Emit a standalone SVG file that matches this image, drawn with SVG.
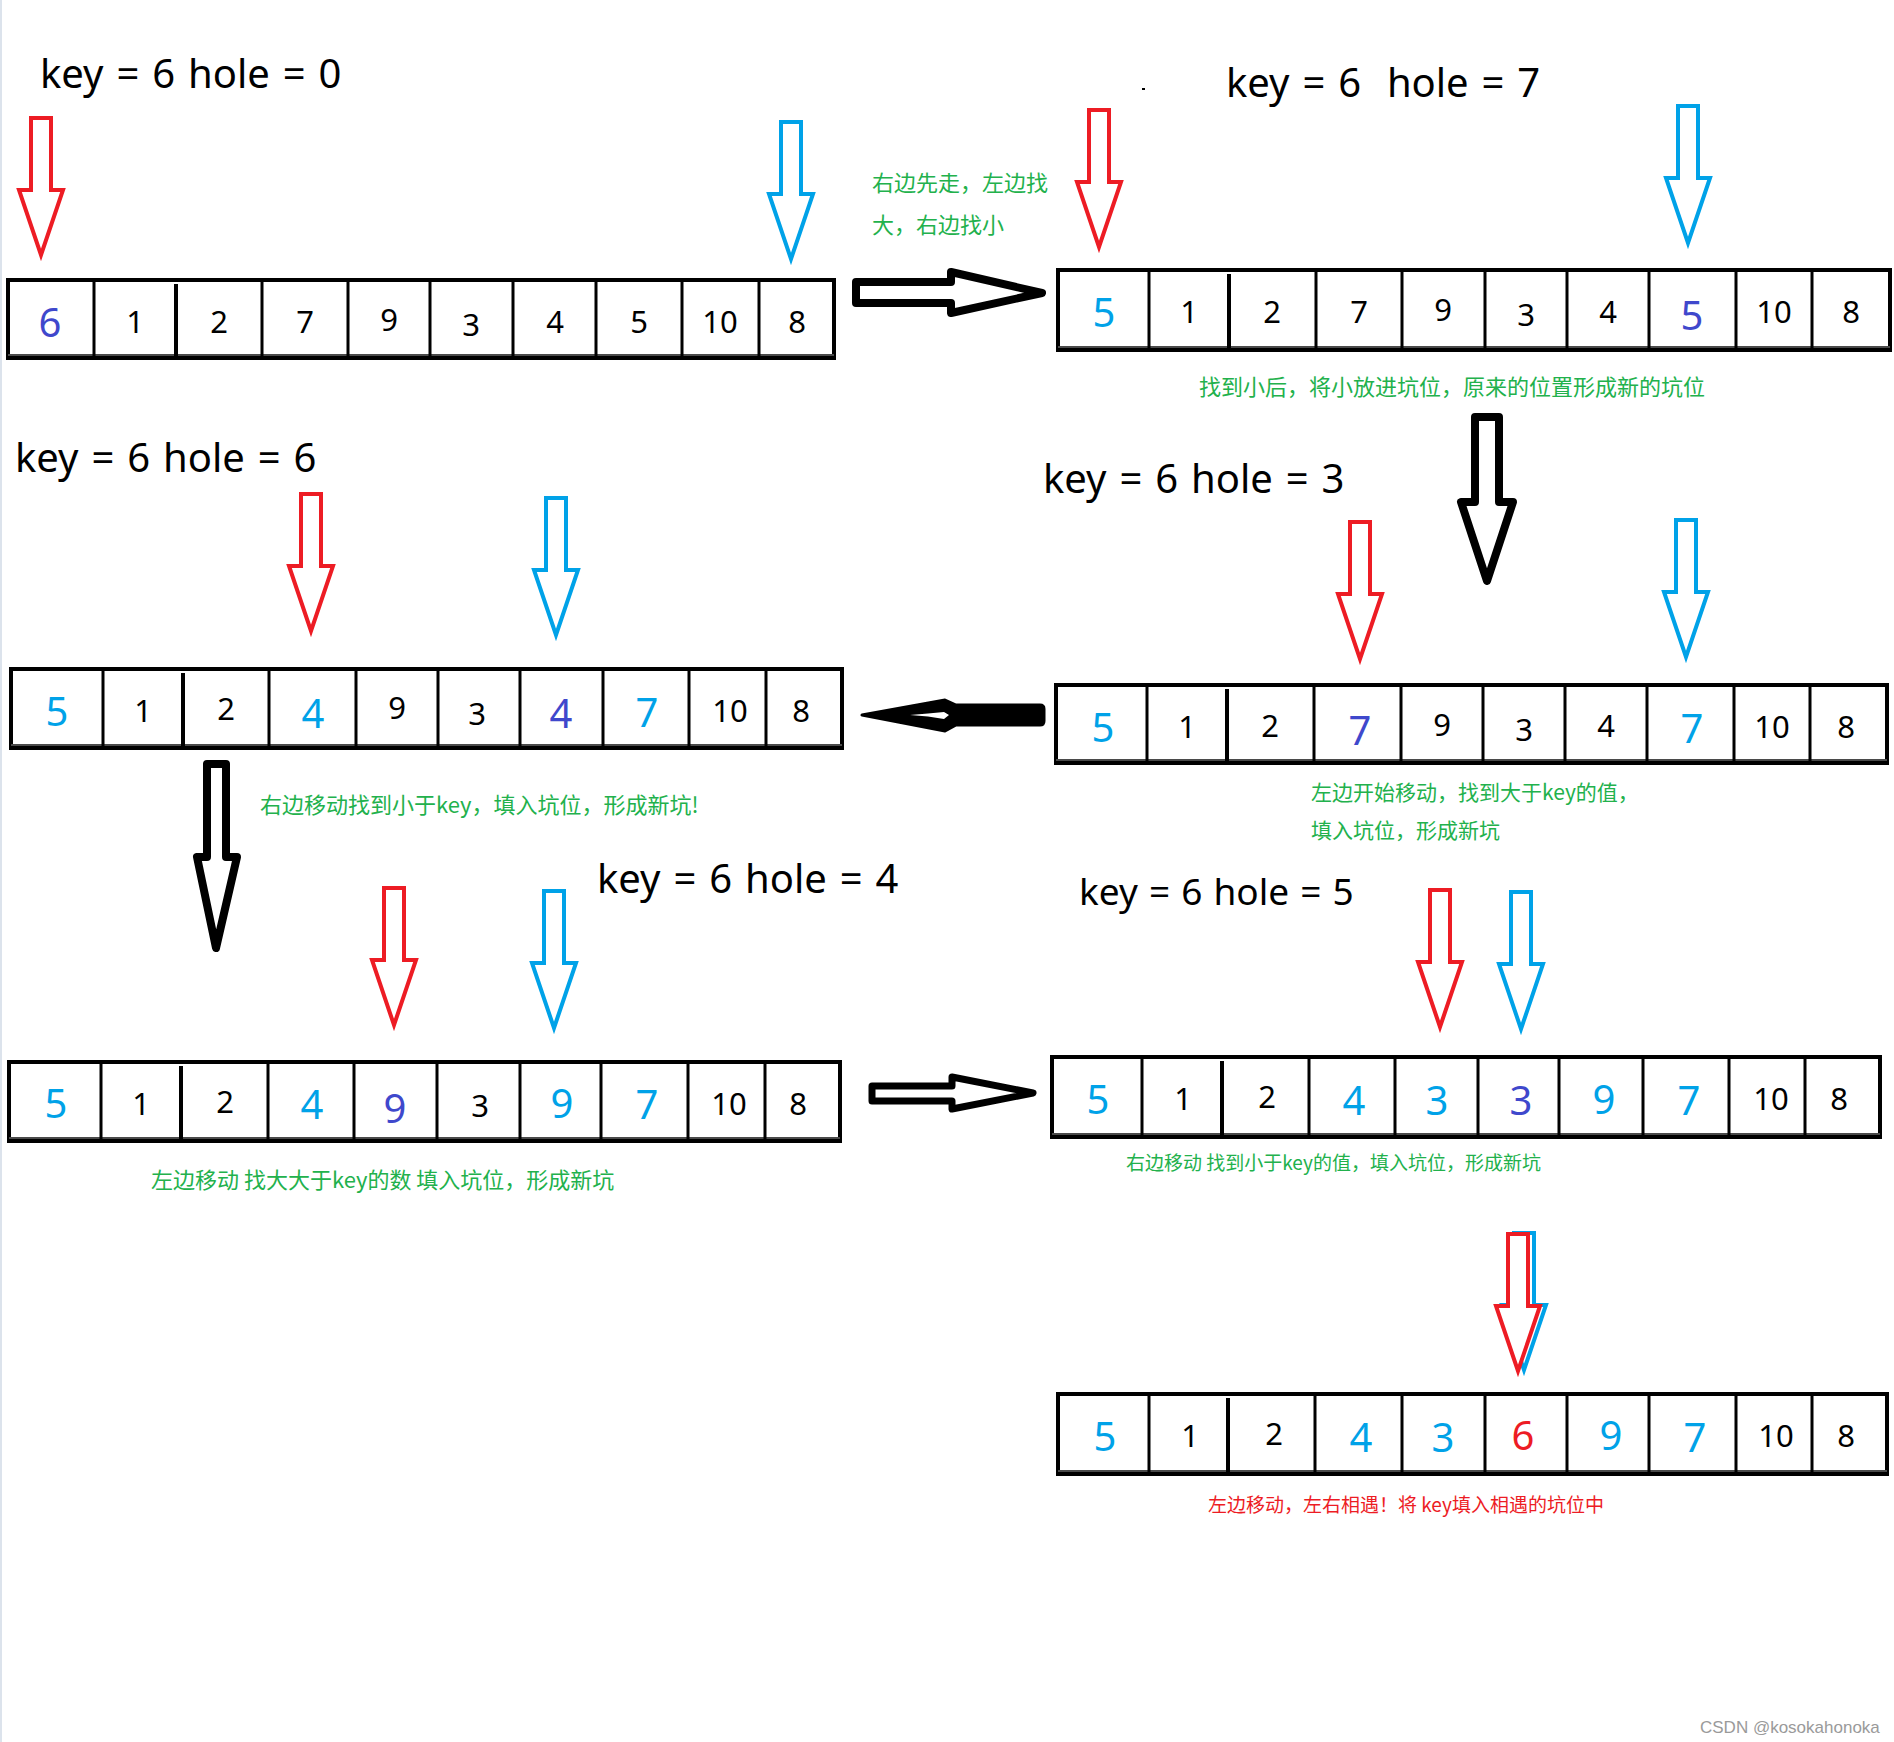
<svg xmlns="http://www.w3.org/2000/svg" width="1894" height="1742" viewBox="0 0 1894 1742">
<style>
.cell{fill:#fff;stroke:#000;stroke-width:4}
.dv{stroke:#000;stroke-width:3}
.dt{stroke:#000;stroke-width:4}
.bot{stroke:#4a4a4a;stroke-width:2}
.n{font-family:"Noto Sans","DejaVu Sans",sans-serif;font-size:31px;text-anchor:middle;fill:#000}
.c{font-size:40px}
.b{fill:#00a2e8}
.p{fill:#3f48cc}
.r{fill:#ed1c24}
.title{font-family:"Noto Sans","DejaVu Sans",sans-serif;font-size:40px;fill:#000;word-spacing:2.5px}
.note{font-family:"Noto Sans CJK SC","Noto Sans",sans-serif;font-size:22px;fill:#22b14c}
.ra{fill:#fff;stroke:#ed1c24;stroke-width:4}
.ba{fill:#fff;stroke:#00a2e8;stroke-width:4}
.blk{fill:#fff;stroke:#000;stroke-width:8;stroke-linejoin:round}
</style>
<defs>
<path id="ptr" d="M -10,2 H 10 V 74 H 22 L 0,139 L -22,74 H -10 Z"/>
</defs>
<rect width="1894" height="1742" fill="#fff"/>
<rect x="0" y="0" width="2" height="1742" fill="#dce3ec"/>

<!-- titles -->
<g id="titles">
<text class="title" x="40" y="88">key = 6 hole = 0</text>
<text class="title" x="1226" y="97" xml:space="preserve">key = 6  hole = 7</text>
<text class="title" x="15" y="472">key = 6 hole = 6</text>
<text class="title" x="1043" y="493">key = 6 hole = 3</text>
<text class="title" x="597" y="893">key = 6 hole = 4</text>
<text class="title" x="1079" y="905" style="font-size:37px;word-spacing:1.5px">key = 6 hole = 5</text>
<rect x="1142" y="88" width="3" height="2" fill="#000"/>
</g>

<!-- array 1 -->
<g id="array1">
<rect class="cell" x="8" y="280" width="826" height="78"/>
<line class="bot" x1="8" y1="355" x2="834" y2="355"/>
<path class="dv" d="M94,280V358M262,280V358M348,280V358M430,280V358M513,280V358M596,280V358M682,280V358M759,280V358"/>
<line class="dt" x1="176" y1="284" x2="176" y2="356"/>
<text class="n c p" x="50" y="337">6</text>
<text class="n" x="135" y="333">1</text>
<text class="n" x="219" y="333">2</text>
<text class="n" x="305" y="333">7</text>
<text class="n" x="389" y="331">9</text>
<text class="n" x="471" y="336">3</text>
<text class="n" x="555" y="333">4</text>
<text class="n" x="639" y="333">5</text>
<text class="n" x="720" y="333">10</text>
<text class="n" x="797" y="333">8</text>
</g>

<!-- array 2 -->
<g id="array2">
<rect class="cell" x="1058" y="270" width="832" height="80"/>
<line class="bot" x1="1058" y1="347" x2="1890" y2="347"/>
<path class="dv" d="M1149,270V350M1316,270V350M1402,270V350M1485,270V350M1567,270V350M1649,270V350M1736,270V350M1812,270V350"/>
<line class="dt" x1="1229" y1="274" x2="1229" y2="348"/>
<text class="n c b" x="1104" y="327">5</text>
<text class="n" x="1189" y="323">1</text>
<text class="n" x="1272" y="323">2</text>
<text class="n" x="1359" y="323">7</text>
<text class="n" x="1443" y="321">9</text>
<text class="n" x="1526" y="326">3</text>
<text class="n" x="1608" y="323">4</text>
<text class="n c p" x="1692" y="330">5</text>
<text class="n" x="1774" y="323">10</text>
<text class="n" x="1851" y="323">8</text>
</g>

<!-- array 3 -->
<g id="array3">
<rect class="cell" x="11" y="669" width="831" height="79"/>
<line class="bot" x1="11" y1="745" x2="842" y2="745"/>
<path class="dv" d="M103,669V748M269,669V748M356,669V748M438,669V748M520,669V748M603,669V748M689,669V748M766,669V748"/>
<line class="dt" x1="183" y1="673" x2="183" y2="746"/>
<text class="n c b" x="57" y="726">5</text>
<text class="n" x="143" y="722">1</text>
<text class="n" x="226" y="720">2</text>
<text class="n c b" x="313" y="728">4</text>
<text class="n" x="397" y="719">9</text>
<text class="n" x="477" y="725">3</text>
<text class="n c p" x="561" y="728">4</text>
<text class="n c b" x="647" y="727">7</text>
<text class="n" x="730" y="722">10</text>
<text class="n" x="801" y="722">8</text>
</g>

<!-- array 4 -->
<g id="array4">
<rect class="cell" x="1056" y="685" width="831" height="78"/>
<line class="bot" x1="1056" y1="760" x2="1887" y2="760"/>
<path class="dv" d="M1147,685V763M1314,685V763M1401,685V763M1483,685V763M1565,685V763M1647,685V763M1734,685V763M1810,685V763"/>
<line class="dt" x1="1227" y1="689" x2="1227" y2="761"/>
<text class="n c b" x="1103" y="742">5</text>
<text class="n" x="1187" y="738">1</text>
<text class="n" x="1270" y="737">2</text>
<text class="n c p" x="1360" y="745">7</text>
<text class="n" x="1442" y="736">9</text>
<text class="n" x="1524" y="741">3</text>
<text class="n" x="1606" y="737">4</text>
<text class="n c b" x="1692" y="743">7</text>
<text class="n" x="1772" y="738">10</text>
<text class="n" x="1846" y="738">8</text>
</g>

<!-- array 5 -->
<g id="array5">
<rect class="cell" x="9" y="1062" width="831" height="79"/>
<line class="bot" x1="9" y1="1138" x2="840" y2="1138"/>
<path class="dv" d="M101,1062V1141M268,1062V1141M354,1062V1141M437,1062V1141M520,1062V1141M601,1062V1141M688,1062V1141M765,1062V1141"/>
<line class="dt" x1="181" y1="1066" x2="181" y2="1139"/>
<text class="n c b" x="56" y="1118">5</text>
<text class="n" x="141" y="1115">1</text>
<text class="n" x="225" y="1113">2</text>
<text class="n c b" x="312" y="1119">4</text>
<text class="n c p" x="395" y="1123">9</text>
<text class="n" x="480" y="1117">3</text>
<text class="n c b" x="562" y="1118">9</text>
<text class="n c b" x="647" y="1119">7</text>
<text class="n" x="729" y="1115">10</text>
<text class="n" x="798" y="1115">8</text>
</g>

<!-- array 6 -->
<g id="array6">
<rect class="cell" x="1052" y="1057" width="828" height="80"/>
<line class="bot" x1="1052" y1="1134" x2="1880" y2="1134"/>
<path class="dv" d="M1142,1057V1137M1309,1057V1137M1395,1057V1137M1478,1057V1137M1559,1057V1137M1643,1057V1137M1729,1057V1137M1805,1057V1137"/>
<line class="dt" x1="1222" y1="1061" x2="1222" y2="1135"/>
<text class="n c b" x="1098" y="1114">5</text>
<text class="n" x="1183" y="1110">1</text>
<text class="n" x="1267" y="1108">2</text>
<text class="n c b" x="1354" y="1115">4</text>
<text class="n c b" x="1437" y="1115">3</text>
<text class="n c p" x="1521" y="1115">3</text>
<text class="n c b" x="1604" y="1114">9</text>
<text class="n c b" x="1689" y="1115">7</text>
<text class="n" x="1771" y="1110">10</text>
<text class="n" x="1839" y="1110">8</text>
</g>

<!-- array 7 -->
<g id="array7">
<rect class="cell" x="1058" y="1394" width="829" height="80"/>
<line class="bot" x1="1058" y1="1471" x2="1887" y2="1471"/>
<path class="dv" d="M1149,1394V1474M1315,1394V1474M1402,1394V1474M1485,1394V1474M1567,1394V1474M1649,1394V1474M1736,1394V1474M1812,1394V1474"/>
<line class="dt" x1="1228" y1="1398" x2="1228" y2="1472"/>
<text class="n c b" x="1105" y="1451">5</text>
<text class="n" x="1190" y="1447">1</text>
<text class="n" x="1274" y="1445">2</text>
<text class="n c b" x="1361" y="1452">4</text>
<text class="n c b" x="1443" y="1452">3</text>
<text class="n c r" x="1523" y="1450">6</text>
<text class="n c b" x="1611" y="1450">9</text>
<text class="n c b" x="1695" y="1452">7</text>
<text class="n" x="1776" y="1447">10</text>
<text class="n" x="1846" y="1447">8</text>
</g>

<!-- pointer arrows -->
<g id="pointers">
<use href="#ptr" class="ra" x="41" y="116"/>
<use href="#ptr" class="ba" x="791" y="120"/>
<use href="#ptr" class="ra" x="1099" y="108"/>
<use href="#ptr" class="ba" x="1688" y="104"/>
<use href="#ptr" class="ra" x="311" y="492"/>
<use href="#ptr" class="ba" x="556" y="496"/>
<use href="#ptr" class="ra" x="1360" y="520"/>
<use href="#ptr" class="ba" x="1686" y="518"/>
<use href="#ptr" class="ra" x="394" y="886"/>
<use href="#ptr" class="ba" x="554" y="889"/>
<use href="#ptr" class="ra" x="1440" y="888"/>
<use href="#ptr" class="ba" x="1521" y="890"/>
<use href="#ptr" class="ba" x="1524" y="1231"/>
<use href="#ptr" class="ra" x="1518" y="1232"/>
</g>

<!-- connectors -->
<g id="connectors">
<path class="blk" d="M856,282 H951 V272 L1042,293 L951,313 V303 H856 Z"/>
<path class="blk" d="M1475,417 H1499 V502 H1513 L1487,581 L1461,502 H1475 Z"/>
<path d="M862,715 L945,700 L956,705 H1040 Q1044,705 1044,709 V721 Q1044,725 1040,725 H956 L945,731 Z" fill="#000" stroke="#000" stroke-width="3" stroke-linejoin="round"/>
<path d="M910,715 L928,713.5 L944,712 L949,715 L944,719 L928,716.5 Z" fill="#fff"/>
<path class="blk" d="M207,764 H226 V857 H237 L216,948 L197,857 H207 Z"/>
<path class="blk" style="stroke-width:7" d="M872,1086 H952 V1077 L1033,1093 L952,1109 V1101 H872 Z"/>
</g>

<!-- notes -->
<g id="notes">
<text class="note" x="872" y="191">右边先走，左边找</text>
<text class="note" x="872" y="233">大，右边找小</text>
<text class="note" x="1199" y="395">找到小后，将小放进坑位，原来的位置形成新的坑位</text>
<text class="note" x="260" y="813">右边移动找到小于key，填入坑位，形成新坑!</text>
<text class="note" x="1311" y="800" style="font-size:21px">左边开始移动，找到大于key的值，</text>
<text class="note" x="1311" y="838" style="font-size:21px">填入坑位，形成新坑</text>
<text class="note" x="151" y="1188">左边移动 找大大于key的数 填入坑位，形成新坑</text>
<text class="note" x="1126" y="1170" style="font-size:19px">右边移动 找到小于key的值，填入坑位，形成新坑</text>
<text class="note" x="1208" y="1512" style="font-size:19px;fill:#ed1c24">左边移动，左右相遇！将 key填入相遇的坑位中</text>
</g>

<text x="1700" y="1733" font-family="Liberation Sans, Arial, sans-serif" font-size="17" fill="#9a9a9a">CSDN @kosokahonoka</text>
</svg>
